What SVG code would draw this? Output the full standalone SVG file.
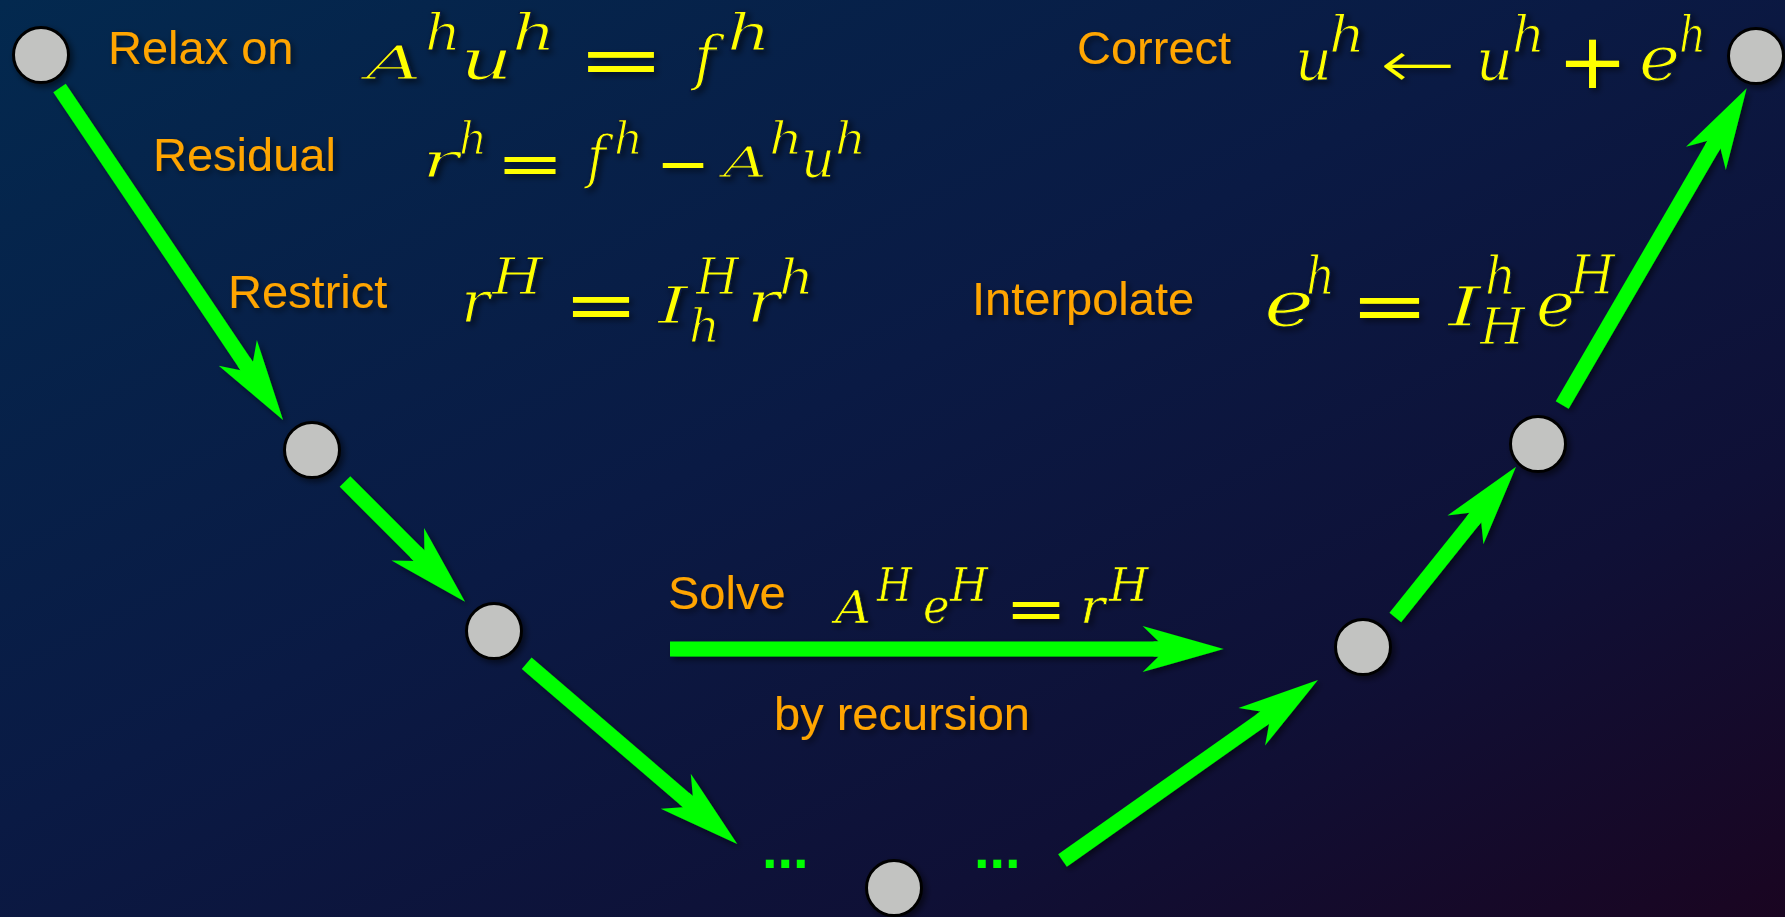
<svg xmlns="http://www.w3.org/2000/svg" width="1785" height="917" viewBox="0 0 1785 917">
  <defs>
    <linearGradient id="bg" x1="0" y1="0" x2="1" y2="1">
      <stop offset="0" stop-color="#03294f"/>
      <stop offset="0.45" stop-color="#0a1a44"/>
      <stop offset="0.75" stop-color="#0f1036"/>
      <stop offset="1" stop-color="#1a0521"/>
    </linearGradient>
    <filter id="sh" x="-20%" y="-20%" width="140%" height="140%">
      <feDropShadow dx="3" dy="3" stdDeviation="3" flood-color="#000" flood-opacity="0.55"/>
    </filter>
    <marker id="head" markerUnits="userSpaceOnUse" viewBox="-90 -30 100 60" refX="-62" refY="0" markerWidth="100" markerHeight="60" orient="auto" overflow="visible">
      <path d="M0,0 L-81,-23 L-65,-7.5 L-70,-7.5 L-70,7.5 L-65,7.5 L-81,23 Z" fill="#00ff00"/>
    </marker>
    <style>
      .node { fill: #c2c3c1; stroke: #000; stroke-width: 3; }
      .arrow { stroke: #00ff00; stroke-width: 15; fill: none; marker-end: url(#head); }
      .lbl { font-family: "Liberation Sans", Arimo, Arial, sans-serif; font-size: 47px; fill: #ffa500; }
      .math { font-family: "DejaVu Serif", serif; font-style: italic; fill: #ffff00; stroke: #0a1a40; stroke-width: 1.2px; stroke-linejoin: round; }
      .small { stroke-width: 0.7px; }
      .op { font-family: "DejaVu Sans", sans-serif; font-style: normal; stroke: none; }
      .thin { font-weight: 200; }
      .dots { font-family: "Liberation Sans", Arimo, Arial, sans-serif; font-weight: bold; font-size: 56px; fill: #00ff00; }
    </style>
  </defs>

  <rect x="0" y="0" width="1785" height="917" fill="url(#bg)"/>

  <g id="connectors" filter="url(#sh)">
    <path class="arrow" d="M59.5,88 L248.4,368.6"/>
    <path class="arrow" d="M345,481.5 L421.2,557.8"/>
    <path class="arrow" d="M526.7,663.3 L690.2,803.6"/>
    <path class="arrow" d="M1062.5,860.5 L1267.3,715.8"/>
    <path class="arrow" d="M1395.3,617.5 L1477.3,515.1"/>
    <path class="arrow" d="M1562.2,405 L1715.5,141.9"/>
    <path class="arrow" d="M670,649 L1161.6,649"/>
  </g>

  <g id="node1" filter="url(#sh)"><circle class="node" cx="41" cy="55" r="27.5"/></g>
  <g id="node2" filter="url(#sh)"><circle class="node" cx="312" cy="450" r="27.5"/></g>
  <g id="node3" filter="url(#sh)"><circle class="node" cx="494" cy="631" r="27.5"/></g>
  <g id="node4" filter="url(#sh)"><circle class="node" cx="894" cy="888" r="27.5"/></g>
  <g id="node5" filter="url(#sh)"><circle class="node" cx="1363" cy="647" r="27.5"/></g>
  <g id="node6" filter="url(#sh)"><circle class="node" cx="1538" cy="444" r="27.5"/></g>
  <g id="node7" filter="url(#sh)"><circle class="node" cx="1756" cy="56" r="27.5"/></g>

  <g id="ellipsis">
    <text class="dots" x="762" y="868">...</text>
    <text class="dots" x="974" y="868">...</text>
  </g>

  <g id="labels" filter="url(#sh)">
    <text class="lbl" x="108" y="64">Relax on</text>
    <text class="lbl" x="153" y="171">Residual</text>
    <text class="lbl" x="228" y="308">Restrict</text>
    <text class="lbl" x="1077" y="64">Correct</text>
    <text class="lbl" x="972" y="315">Interpolate</text>
    <text class="lbl" x="668" y="609">Solve</text>
    <text class="lbl" x="774" y="730">by recursion</text>
  </g>

  <g id="equations" filter="url(#sh)">
    <!-- A^h u^h = f^h -->
    <text class="math">
      <tspan x="366" y="79" font-size="46" textLength="56" lengthAdjust="spacingAndGlyphs">A</tspan>
      <tspan x="425" y="50" font-size="50" textLength="36" lengthAdjust="spacingAndGlyphs">h</tspan>
      <tspan x="460" y="79" font-size="56" textLength="53" lengthAdjust="spacingAndGlyphs">u</tspan>
      <tspan x="512" y="50" font-size="50" textLength="44" lengthAdjust="spacingAndGlyphs">h</tspan>
      <tspan class="op" x="577" y="84" font-size="72" textLength="88" lengthAdjust="spacingAndGlyphs">=</tspan>
      <tspan x="694" y="79" font-size="60" textLength="22" lengthAdjust="spacingAndGlyphs">f</tspan>
      <tspan x="727" y="50" font-size="50" textLength="44" lengthAdjust="spacingAndGlyphs">h</tspan>
    </text>
    <!-- r^h = f^h - A^h u^h -->
    <text class="math">
      <tspan x="422" y="177" font-size="48" textLength="37" lengthAdjust="spacingAndGlyphs">r</tspan>
      <tspan x="459" y="154" font-size="44" textLength="28" lengthAdjust="spacingAndGlyphs">h</tspan>
      <tspan class="op" x="496" y="183.5" font-size="60" textLength="68" lengthAdjust="spacingAndGlyphs">=</tspan>
      <tspan x="587" y="177" font-size="58" textLength="19" lengthAdjust="spacingAndGlyphs">f</tspan>
      <tspan x="614" y="154" font-size="44" textLength="29" lengthAdjust="spacingAndGlyphs">h</tspan>
      <tspan class="op" x="656" y="184" font-size="60" textLength="54" lengthAdjust="spacingAndGlyphs">−</tspan>
      <tspan x="723" y="177" font-size="42" textLength="44" lengthAdjust="spacingAndGlyphs">A</tspan>
      <tspan x="769" y="154" font-size="44" textLength="34" lengthAdjust="spacingAndGlyphs">h</tspan>
      <tspan x="801" y="177" font-size="52" textLength="34" lengthAdjust="spacingAndGlyphs">u</tspan>
      <tspan x="835" y="154" font-size="44" textLength="31" lengthAdjust="spacingAndGlyphs">h</tspan>
    </text>
    <!-- r^H = I_h^H r^h -->
    <text class="math">
      <tspan x="461" y="322" font-size="58" textLength="29" lengthAdjust="spacingAndGlyphs">r</tspan>
      <tspan x="492" y="294" font-size="50" textLength="51" lengthAdjust="spacingAndGlyphs">H</tspan>
      <tspan class="op" x="563.5" y="329" font-size="72" textLength="75" lengthAdjust="spacingAndGlyphs">=</tspan>
      <tspan x="658" y="323" font-size="50" textLength="30" lengthAdjust="spacingAndGlyphs">I</tspan>
      <tspan x="696" y="294" font-size="50" textLength="43" lengthAdjust="spacingAndGlyphs">H</tspan>
      <tspan x="689" y="342" font-size="47" textLength="31" lengthAdjust="spacingAndGlyphs">h</tspan>
      <tspan x="747" y="322" font-size="58" textLength="33" lengthAdjust="spacingAndGlyphs">r</tspan>
      <tspan x="779" y="294" font-size="48" textLength="35" lengthAdjust="spacingAndGlyphs">h</tspan>
    </text>
    <!-- e^h = I_H^h e^H -->
    <text class="math">
      <tspan x="1264" y="326" font-size="64" textLength="50" lengthAdjust="spacingAndGlyphs">e</tspan>
      <tspan x="1306" y="294" font-size="52" textLength="29" lengthAdjust="spacingAndGlyphs">h</tspan>
      <tspan class="op" x="1350" y="330" font-size="72" textLength="79" lengthAdjust="spacingAndGlyphs">=</tspan>
      <tspan x="1448" y="326" font-size="54" textLength="33" lengthAdjust="spacingAndGlyphs">I</tspan>
      <tspan x="1485" y="294" font-size="52" textLength="31" lengthAdjust="spacingAndGlyphs">h</tspan>
      <tspan x="1480" y="344" font-size="50" textLength="45" lengthAdjust="spacingAndGlyphs">H</tspan>
      <tspan x="1536" y="326" font-size="62" textLength="39" lengthAdjust="spacingAndGlyphs">e</tspan>
      <tspan x="1570" y="294" font-size="54" textLength="45" lengthAdjust="spacingAndGlyphs">H</tspan>
    </text>
    <!-- u^h <- u^h + e^h -->
    <text class="math">
      <tspan x="1295" y="80" font-size="58" textLength="37" lengthAdjust="spacingAndGlyphs">u</tspan>
      <tspan x="1329" y="52" font-size="50" textLength="36" lengthAdjust="spacingAndGlyphs">h</tspan>
      <tspan class="op thin" x="1380" y="87" font-size="66" textLength="76" lengthAdjust="spacingAndGlyphs">←</tspan>
      <tspan x="1476" y="80" font-size="58" textLength="37" lengthAdjust="spacingAndGlyphs">u</tspan>
      <tspan x="1512" y="52" font-size="50" textLength="33" lengthAdjust="spacingAndGlyphs">h</tspan>
      <tspan class="op" x="1557" y="88" font-size="76" textLength="71" lengthAdjust="spacingAndGlyphs">+</tspan>
      <tspan x="1639" y="80" font-size="62" textLength="41" lengthAdjust="spacingAndGlyphs">e</tspan>
      <tspan x="1679" y="52" font-size="50" textLength="27" lengthAdjust="spacingAndGlyphs">h</tspan>
    </text>
    <!-- A^H e^H = r^H -->
    <text class="math small">
      <tspan x="835" y="623" font-size="44" textLength="36" lengthAdjust="spacingAndGlyphs">A</tspan>
      <tspan x="877" y="601" font-size="46" textLength="35" lengthAdjust="spacingAndGlyphs">H</tspan>
      <tspan x="923" y="623" font-size="48" textLength="26.5" lengthAdjust="spacingAndGlyphs">e</tspan>
      <tspan x="950" y="601" font-size="46" textLength="38" lengthAdjust="spacingAndGlyphs">H</tspan>
      <tspan class="op" x="1005" y="628.5" font-size="60" textLength="62" lengthAdjust="spacingAndGlyphs">=</tspan>
      <tspan x="1080" y="623" font-size="48" textLength="25" lengthAdjust="spacingAndGlyphs">r</tspan>
      <tspan x="1109" y="601" font-size="46" textLength="39.5" lengthAdjust="spacingAndGlyphs">H</tspan>
    </text>
  </g>
</svg>
